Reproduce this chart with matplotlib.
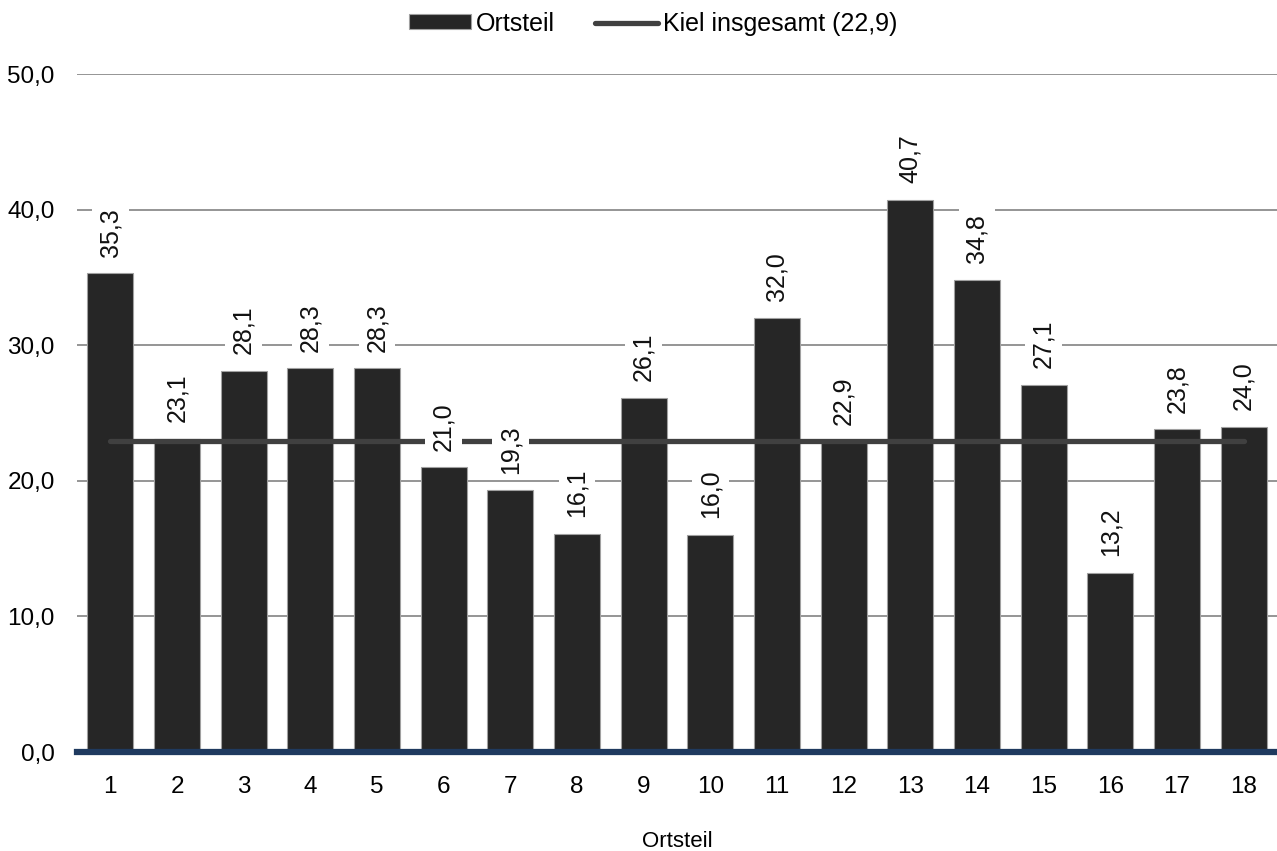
import matplotlib.pyplot as plt

# -----------------------------
# Data
# -----------------------------

ortsteile = [str(i) for i in range(1, 19)]
werte = [35.3, 23.1, 28.1, 28.3, 28.3, 21.0, 19.3, 16.1, 26.1,
         16.0, 32.0, 22.9, 40.7, 34.8, 27.1, 13.2, 23.8, 24.0]
kiel_gesamt = 22.9
y_ticks = [0, 10, 20, 30, 40, 50]

plt.rcParams["font.family"] = ["Liberation Sans", "DejaVu Sans"]

fig = plt.figure(figsize=(12.77, 8.51), dpi=100)
ax = fig.add_axes([77 / 1277, 99 / 851, 1200 / 1277, 678 / 851])

x = list(range(len(ortsteile)))

# bars
bars = ax.bar(x, werte, width=0.69, color="#262626", edgecolor="#a0a0a0",
              linewidth=0.8, zorder=2, label="Ortsteil")

# average line
line, = ax.plot([x[0], x[-1]], [kiel_gesamt, kiel_gesamt], color="#404040",
                linewidth=3.8, solid_capstyle="round", zorder=3,
                label="Kiel insgesamt (22,9)")

# value labels
for xi, v in zip(x, werte):
    ax.annotate(f"{v:.1f}".replace(".", ","), (xi, v),
                xytext=(0, 12), textcoords="offset points",
                rotation=90, ha="center", va="bottom", fontsize=18,
                color="#111111", zorder=5, annotation_clip=False,
                bbox=dict(boxstyle="square,pad=0.25", fc="white", ec="none"))

# gridlines
for t in y_ticks[1:]:
    ax.axhline(t, color="#8c8c8c", linewidth=1.3, zorder=1)
ax.axhline(0, color="#1f3a5f", linewidth=4.5, zorder=4, clip_on=False)

ax.set_xlim(-0.5, len(ortsteile) - 0.5)
ax.set_ylim(0, 50)
ax.set_yticks(y_ticks)
ax.set_yticklabels([f"{t:.1f}".replace(".", ",") for t in y_ticks], fontsize=17.5)
ax.set_xticks(x)
ax.set_xticklabels(ortsteile, fontsize=17.5)
ax.tick_params(axis="y", length=0, pad=16)
ax.tick_params(axis="x", length=0, pad=17)

for s in ax.spines.values():
    s.set_visible(False)

ax.set_xlabel("Ortsteil", fontsize=16, labelpad=24)

ax.legend(handles=[bars, line], loc="upper center",
          bbox_to_anchor=(0.48, 1.125), ncol=2,
          frameon=False, fontsize=18, handlelength=2.5, handleheight=0.55,
          columnspacing=1.6, handletextpad=0.2)

fig.savefig("out.png", dpi=100)
